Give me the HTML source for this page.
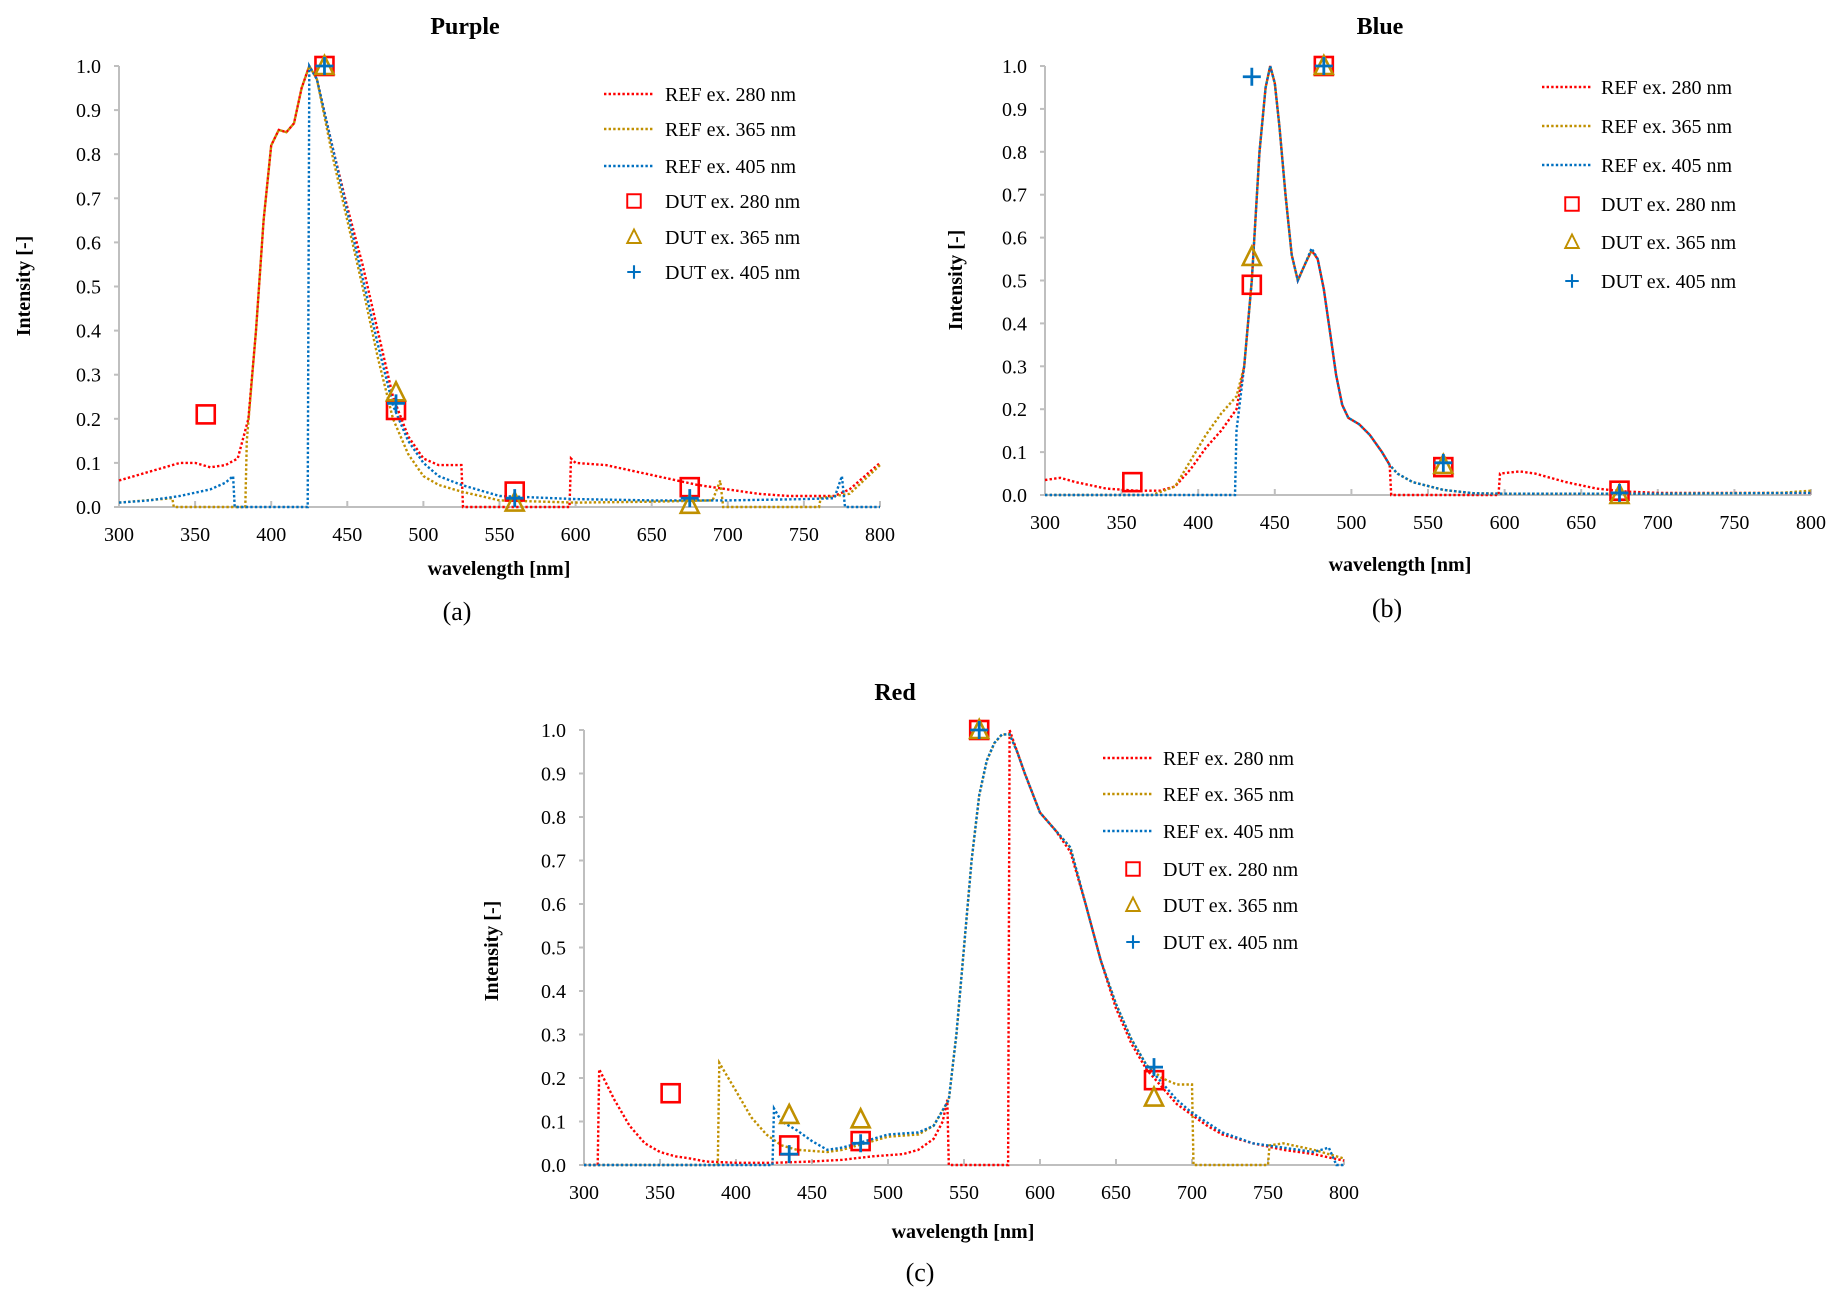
<!DOCTYPE html>
<html><head><meta charset="utf-8">
<style>
html,body{margin:0;padding:0;background:#fff;}
svg{display:block;font-family:"Liberation Serif","Times New Roman",serif;}
</style></head>
<body>
<svg id="fig" width="1836" height="1295" viewBox="0 0 1836 1295" xmlns="http://www.w3.org/2000/svg"></svg>
<script>
// ---------- data ----------
const seriesNames = ["REF ex. 280 nm","REF ex. 365 nm","REF ex. 405 nm","DUT ex. 280 nm","DUT ex. 365 nm","DUT ex. 405 nm"];
const xTicks = [300,350,400,450,500,550,600,650,700,750,800];
const yTicks = [0,0.1,0.2,0.3,0.4,0.5,0.6,0.7,0.8,0.9,1.0];

// Purple
const aRef280 = [[300,0.06],[310,0.07],[320,0.08],[330,0.09],[340,0.1],[350,0.1],[360,0.09],[370,0.095],[378,0.11],[385,0.2],[390,0.4],[395,0.65],[400,0.82],[405,0.855],[410,0.85],[415,0.87],[420,0.95],[425,1.0],[430,0.97],[440,0.82],[450,0.68],[460,0.55],[470,0.4],[480,0.25],[490,0.16],[500,0.11],[510,0.095],[525,0.095],[526,0],[596,0],[597,0.11],[600,0.1],[620,0.095],[640,0.08],[660,0.065],[680,0.05],[700,0.04],[720,0.03],[740,0.025],[770,0.025],[780,0.04],[790,0.07],[800,0.1]];
const aRef365 = [[300,0.01],[335,0.02],[336,0],[383,0],[384,0.15],[390,0.4],[395,0.65],[400,0.82],[405,0.855],[410,0.85],[415,0.87],[420,0.95],[425,1.0],[430,0.97],[440,0.8],[450,0.65],[460,0.5],[470,0.34],[480,0.2],[490,0.12],[500,0.07],[510,0.05],[525,0.035],[550,0.015],[600,0.01],[650,0.012],[690,0.015],[695,0.06],[697,0],[760,0],[761,0.02],[780,0.03],[800,0.095]];
const aRef405 = [[300,0.01],[320,0.015],[340,0.025],[360,0.04],[370,0.055],[375,0.07],[376,0],[424,0],[425,1.0],[430,0.97],[440,0.82],[450,0.67],[460,0.52],[470,0.37],[480,0.23],[490,0.15],[500,0.1],[510,0.07],[525,0.05],[550,0.025],[600,0.018],[650,0.015],[700,0.015],[750,0.018],[770,0.02],[775,0.07],[777,0],[800,0]];
const aDut280 = [[357,0.21],[435,1.0],[482,0.22],[560,0.035],[675,0.045]];
const aDut365 = [[435,1.0],[482,0.26],[560,0.01],[675,0.005]];
const aDut405 = [[435,1.0],[482,0.235],[560,0.02],[675,0.02]];

// Blue
const bRef280 = [[300,0.035],[310,0.04],[320,0.03],[340,0.015],[360,0.01],[375,0.01],[385,0.02],[395,0.06],[405,0.11],[415,0.15],[425,0.2],[430,0.3],[435,0.5],[440,0.8],[444,0.95],[447,1.0],[450,0.96],[453,0.86],[457,0.7],[461,0.56],[465,0.5],[470,0.54],[474,0.57],[478,0.55],[482,0.48],[486,0.38],[490,0.28],[494,0.21],[498,0.18],[505,0.165],[512,0.14],[520,0.1],[525,0.07],[526,0],[596,0],[597,0.05],[610,0.055],[620,0.05],[640,0.03],[660,0.015],[680,0.008],[700,0.005],[800,0.005]];
const bRef365 = [[300,0],[370,0],[385,0.02],[395,0.08],[405,0.14],[415,0.19],[425,0.23],[430,0.3],[435,0.5],[440,0.8],[444,0.95],[447,1.0],[450,0.96],[453,0.86],[457,0.7],[461,0.56],[465,0.5],[470,0.54],[474,0.57],[478,0.55],[482,0.48],[486,0.38],[490,0.28],[494,0.21],[498,0.18],[505,0.165],[512,0.14],[520,0.1],[525,0.07],[530,0.05],[540,0.03],[560,0.012],[580,0.004],[600,0.003],[700,0.003],[780,0.005],[800,0.01]];
const bRef405 = [[300,0],[424,0],[425,0.15],[430,0.3],[435,0.5],[440,0.8],[444,0.95],[447,1.0],[450,0.96],[453,0.86],[457,0.7],[461,0.56],[465,0.5],[470,0.54],[474,0.575],[478,0.55],[482,0.48],[486,0.38],[490,0.28],[494,0.21],[498,0.18],[505,0.165],[512,0.14],[520,0.1],[525,0.07],[530,0.05],[540,0.03],[560,0.012],[580,0.004],[600,0.003],[700,0.003],[800,0.005]];
const bDut280 = [[357,0.03],[435,0.49],[482,1.0],[560,0.065],[675,0.01]];
const bDut365 = [[435,0.555],[482,1.0],[560,0.07],[675,0.0]];
const bDut405 = [[435,0.975],[482,1.0],[560,0.075],[675,0.005]];

// Red
const cRef280 = [[300,0],[309,0],[310,0.22],[320,0.15],[330,0.09],[340,0.05],[350,0.03],[360,0.02],[370,0.015],[380,0.008],[400,0.005],[425,0.005],[450,0.008],[470,0.012],[490,0.02],[510,0.025],[520,0.035],[530,0.06],[536,0.1],[539,0.15],[540,0],[579,0],[580,1.0],[585,0.95],[590,0.9],[600,0.81],[610,0.77],[620,0.72],[630,0.6],[640,0.47],[650,0.36],[660,0.28],[670,0.22],[680,0.18],[690,0.14],[700,0.115],[710,0.09],[720,0.07],[740,0.05],[760,0.035],[780,0.025],[800,0.01]];
const cRef365 = [[300,0],[388,0],[389,0.235],[400,0.17],[410,0.11],[420,0.07],[430,0.045],[440,0.035],[460,0.03],[470,0.035],[480,0.045],[490,0.055],[500,0.065],[520,0.07],[530,0.09],[540,0.15],[545,0.3],[550,0.5],[555,0.7],[560,0.85],[565,0.93],[570,0.97],[575,0.99],[580,0.99],[585,0.95],[590,0.9],[600,0.81],[610,0.77],[620,0.73],[630,0.6],[640,0.47],[650,0.37],[660,0.29],[670,0.23],[680,0.2],[690,0.185],[700,0.185],[701,0],[750,0],[751,0.045],[760,0.05],[780,0.035],[800,0.015]];
const cRef405 = [[300,0],[424,0],[425,0.13],[430,0.1],[440,0.08],[450,0.055],[460,0.035],[470,0.04],[480,0.05],[490,0.06],[500,0.07],[520,0.075],[530,0.09],[540,0.15],[545,0.3],[550,0.5],[555,0.7],[560,0.85],[565,0.93],[570,0.97],[575,0.99],[580,0.99],[585,0.95],[590,0.9],[600,0.81],[610,0.77],[620,0.73],[630,0.6],[640,0.47],[650,0.37],[660,0.29],[670,0.23],[680,0.19],[690,0.15],[700,0.12],[720,0.075],[740,0.05],[760,0.04],[780,0.03],[790,0.04],[795,0],[800,0]];
const cDut280 = [[357,0.165],[435,0.045],[482,0.055],[560,1.0],[675,0.195]];
const cDut365 = [[435,0.115],[482,0.105],[560,1.0],[675,0.155]];
const cDut405 = [[435,0.025],[482,0.05],[560,1.0],[675,0.225]];

const colors = ["#ff0000","#c09000","#0070c0"];
const NS="http://www.w3.org/2000/svg";
const svg=document.getElementById('fig');
function mk(tag,attrs,parent){const e=document.createElementNS(NS,tag);for(const k in attrs)e.setAttribute(k,attrs[k]);(parent||svg).appendChild(e);return e;}

const panels=[
 {key:"purple",title:"Purple",cap:"(a)",x0:119,x1:880,y0:507,y1:66,tx:465,ty:34,capx:457,capy:620,xtx:499,xty:575,ytx:30,yty:286,legLine:604,legText:665,legRows:[94,129,166,201,237,272],refs:[aRef280,aRef365,aRef405],duts:[aDut280,aDut365,aDut405]},
 {key:"blue",title:"Blue",cap:"(b)",x0:1045,x1:1811,y0:495,y1:66,tx:1380,ty:34,capx:1387,capy:617,xtx:1400,xty:571,ytx:962,yty:280,legLine:1542,legText:1601,legRows:[87,126,165,204,242,281],refs:[bRef280,bRef365,bRef405],duts:[bDut280,bDut365,bDut405]},
 {key:"red",title:"Red",cap:"(c)",x0:584,x1:1344,y0:1165,y1:730,tx:895,ty:700,capx:920,capy:1281,xtx:963,xty:1238,ytx:498,yty:951,legLine:1103,legText:1163,legRows:[758,794,831,869,905,942],refs:[cRef280,cRef365,cRef405],duts:[cDut280,cDut365,cDut405]}
];

function marker(g,type,px,py,col){
  let m;
  if(type===0){m=mk('rect',{x:px-9,y:py-9,width:18,height:18,fill:'none',stroke:col,'stroke-width':2.6},g);}
  else if(type===1){m=mk('path',{d:`M${px},${py-10} L${px+9},${py+8} L${px-9},${py+8} Z`,fill:'none',stroke:col,'stroke-width':2.6},g);}
  else {m=mk('path',{d:`M${px-9},${py} H${px+9} M${px},${py-9} V${py+9}`,fill:'none',stroke:col,'stroke-width':2.8},g);}
  return m;
}

panels.forEach(p=>{
  const g=mk('g',{});
  
  
  const X=v=>p.x0+(v-300)/(800-300)*(p.x1-p.x0);
  const Y=v=>p.y0+v*(p.y1-p.y0);
  const t=mk('text',{x:p.tx,y:p.ty,'text-anchor':'middle','font-size':24,'font-weight':'bold'},g);t.textContent=p.title;
  
  
  const ax=mk('path',{d:`M${p.x0},${p.y1} V${p.y0} H${p.x1}`,fill:'none',stroke:'#bfbfbf','stroke-width':2},g);
  
  
  yTicks.forEach(v=>{
    mk('line',{x1:p.x0-5,x2:p.x0,y1:Y(v),y2:Y(v),stroke:'#bfbfbf','stroke-width':2},g);
    const l=mk('text',{x:p.x0-18,y:Y(v)+7,'text-anchor':'end','font-size':20},g);l.textContent=v.toFixed(1);
    
    
  });
  xTicks.forEach(v=>{
    mk('line',{x1:X(v),x2:X(v),y1:p.y0,y2:p.y0-6,stroke:'#bfbfbf','stroke-width':2},g);
    const l=mk('text',{x:X(v),y:p.y0+34,'text-anchor':'middle','font-size':20},g);l.textContent=v;
    
    
  });
  const xt=mk('text',{x:p.xtx,y:p.xty,'text-anchor':'middle','font-size':20,'font-weight':'bold'},g);xt.textContent='wavelength [nm]';
  
  
  const yt=mk('text',{x:p.ytx,y:p.yty,'text-anchor':'middle','font-size':20,'font-weight':'bold',transform:`rotate(-90 ${p.ytx} ${p.yty})`},g);yt.textContent='Intensity [-]';
  
  
  const cp=mk('text',{x:p.capx,y:p.capy,'text-anchor':'middle','font-size':26},g);cp.textContent=p.cap;
  
  
  p.refs.forEach((s,i)=>{
    const d=s.map((pt,j)=>(j?'L':'M')+X(pt[0]).toFixed(1)+','+Y(pt[1]).toFixed(1)).join(' ');
    const pl=mk('path',{d:d,fill:'none',stroke:colors[i],'stroke-width':2.4,'stroke-dasharray':'2.4 2.2'},g);
    
    
  });
  p.duts.forEach((s,i)=>{
    s.forEach(pt=>{
      const m=marker(g,i,X(pt[0]),Y(pt[1]),colors[i]);
      
      
    });
  });
  p.legRows.forEach((ry,i)=>{
    const lg=mk('g',{},g);
    
    
    if(i<3) mk('line',{x1:p.legLine,x2:p.legLine+50,y1:ry,y2:ry,stroke:colors[i],'stroke-width':2.4,'stroke-dasharray':'2.4 2.2'},lg);
    else marker(lg,i-3,p.legLine+30,ry,colors[i-3]).setAttribute('transform',`translate(${p.legLine+30},${ry}) scale(0.75) translate(${-(p.legLine+30)},${-ry})`);
    const tx=mk('text',{x:p.legText,y:ry+7,'font-size':20},lg);tx.textContent=seriesNames[i];
  });
});
</script>
</body></html>
